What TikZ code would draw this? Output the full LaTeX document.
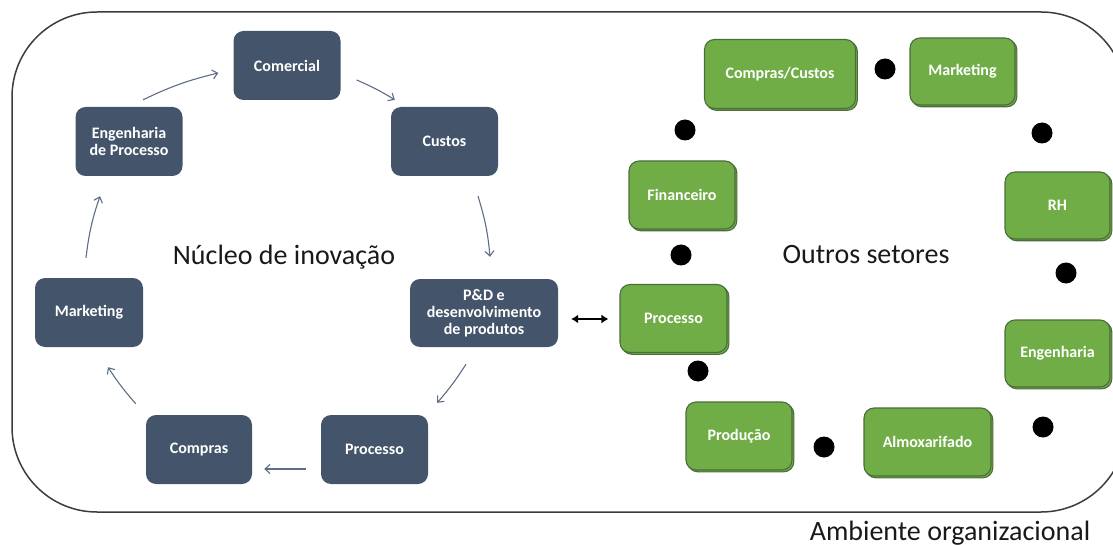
\documentclass[tikz,border=0pt]{standalone}
\usepackage{fontspec}
\setmainfont{Carlito}
\usetikzlibrary{arrows.meta,calc,shadows}
\definecolor{darkbox}{HTML}{44546A}
\definecolor{greenbox}{HTML}{70AD47}
\definecolor{greenedge}{HTML}{4A6E3A}
\definecolor{arrcol}{HTML}{5E6C86}
\definecolor{outline}{HTML}{3C3C3C}
\tikzset{
  dbox/.style={rectangle, rounded corners=10pt, fill=darkbox, draw=none,
    minimum width=107pt, minimum height=69pt, inner sep=2pt, align=center,
    text=white, font=\fontsize{16}{17}\selectfont\bfseries},
  gbox/.style={rectangle, rounded corners=10pt, fill=greenbox, draw=greenedge, line width=1.1pt,
    minimum width=107pt, minimum height=69pt, inner sep=2pt, align=center,
    text=white, font=\fontsize{16}{17}\selectfont\bfseries,
    copy shadow={shadow xshift=1.8pt, shadow yshift=-1.8pt, fill=greenbox, draw=greenedge, line width=1.1pt}},
  dot/.style={circle, fill=black, draw=none, minimum size=21pt, inner sep=0pt},
  arr/.style={draw=arrcol, line width=1.1pt, -{Straight Barb[length=5pt,width=9pt]}},
  darr/.style={draw=black, line width=2.2pt, {Latex[length=7pt,width=9pt]}-{Latex[length=7pt,width=9pt]}},
  biglabel/.style={font=\fontsize{28}{32}\selectfont, text=black!90, inner sep=0pt}
}
\begin{document}
\begin{tikzpicture}[x=1pt,y=-1pt]
\useasboundingbox (0,0) rectangle (1113,545);
\clip (0,0) rectangle (1113,545);
\draw[outline, line width=1.5pt, rounded corners=85pt] (12,12) rectangle (1126,512);

% dark boxes
\node[dbox] (com) at (287,65.5) {Comercial};
\node[dbox] (cus) at (444.5,141.5) {Custos};
\node[dbox] (eng) at (129,141.5) {Engenharia\\de Processo};
\node[dbox, minimum width=108pt] (mkt) at (89,312.5) {Marketing};
\node[dbox, minimum width=148pt, minimum height=68pt] (pd) at (484,313) {P\&D e\\desenvolvimento\\de produtos};
\node[dbox] (proc) at (374.5,449.5) {Processo};
\node[dbox, minimum width=106pt] (cmp) at (199,449.5) {Compras};

% green boxes
\node[gbox, minimum width=151pt, minimum height=69pt] (gcc) at (780,74) {Compras/Custos};
\node[gbox, minimum width=105pt, minimum height=67pt] (gmkt) at (962.5,71.5) {Marketing};
\node[gbox, minimum width=106pt, minimum height=68pt] (gfin) at (682,195) {Financeiro};
\node[gbox, minimum width=105pt, minimum height=67pt] (grh) at (1057.5,205.5) {RH};
\node[gbox, minimum width=107pt, minimum height=68pt] (gproc) at (673.5,318.5) {Processo};
\node[gbox, minimum width=105pt, minimum height=67pt] (geng) at (1057.5,353.5) {Engenharia};
\node[gbox, minimum width=106pt, minimum height=68pt] (gprod) at (739,436) {Produção};
\node[gbox, minimum width=127pt, minimum height=68pt] (galm) at (927.5,442) {Almoxarifado};

% dots
\node[dot] (d1) at (885,69) {};
\node[dot] (d2) at (685,130) {};
\node[dot] (d3) at (1042,133) {};
\node[dot] (d4) at (681,255) {};
\node[dot] (d5) at (1066,273) {};
\node[dot] (d6) at (698,371) {};
\node[dot] (d7) at (1043,427) {};
\node[dot] (d8) at (824,447) {};

% cycle arrows
\draw[arr] ($(eng.north)+(14,-7)$) to[bend left=6] ($(com.west)+(-15,7.5)$);
\draw[arr] ($(com.east)+(16,14.5)$) to[bend left=4] ($(cus.north west)+(4,-7)$);
\draw[arr] ($(cus.south)+(33.5,20)$) to[bend left=6] ($(pd.north)+(6,-22)$);
\draw[arr] ($(pd.south)+(-18,17)$) to[bend left=4] ($(proc.north east)+(9,-12)$);
\draw[arr] ($(proc.west)+(-15,19.5)$) -- ($(cmp.east)+(12,19.5)$);
\draw[arr] ($(cmp.north west)+(-10,-11)$) to[bend left=4] ($(mkt.south)+(19,20)$);
\draw[arr] ($(mkt.north)+(-3,-20)$) to[bend left=6] ($(eng.south)+(-29,20)$);

% double arrow
\coordinate (da1) at ($(pd.east)+(13,6)$);
\coordinate (da2) at ($(gproc.west)+(-11,0)$);
\draw[darr] (da1) -- (da2 |- da1);

% labels
\node[biglabel] (nucleo) at (284,257) {Núcleo de inovação};
\node[biglabel] (outros) at (866,255) {Outros setores};
\node[biglabel, anchor=base] (amb) at (950,540) {Ambiente organizacional};
\end{tikzpicture}
\end{document}
